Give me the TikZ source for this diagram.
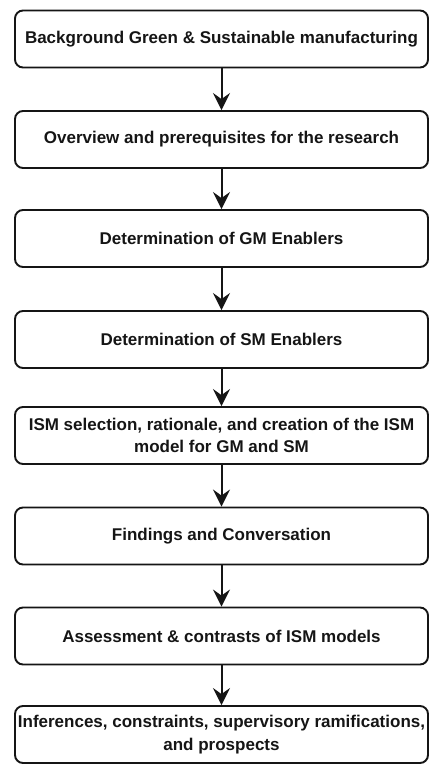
\documentclass[tikz,border=0pt]{standalone}
\usepackage{fontspec}
\setmainfont{Liberation Sans}
\usetikzlibrary{arrows.meta}
\definecolor{ink}{HTML}{151515}
\begin{document}
\begin{tikzpicture}[x=1pt,y=-1pt,
  stepbox/.style={draw=ink,line width=1.9pt,rounded corners=8pt,
    minimum width=413pt,minimum height=57pt,inner sep=0pt,
    align=center,text=ink,
    font=\fontsize{17}{22.5}\selectfont\bfseries},
  flow/.style={draw=ink,line width=2pt,
    -{Stealth[length=17pt,width=17pt,inset=6pt]}}]
\useasboundingbox (0,0) rectangle (429,764);
\node[stepbox] (b1) at (221.5,39)    {Background Green \& Sustainable manufacturing};
\node[stepbox] (b2) at (221.5,139.5) {Overview and prerequisites for the research};
\node[stepbox] (b3) at (221.5,238.5) {Determination of GM Enablers};
\node[stepbox] (b4) at (221.5,339.5) {Determination of SM Enablers};
\node[stepbox] (b5) at (221.5,435.5) {ISM selection, rationale, and creation of the ISM\\model for GM and SM};
\node[stepbox] (b6) at (221.5,536)   {Findings and Conversation};
\node[stepbox] (b7) at (221.5,636)   {Assessment \& contrasts of ISM models};
\node[stepbox] (b8) at (221.5,734.5) {Inferences, constraints, supervisory ramifications,\\and prospects};
\foreach \a/\b in {b1/b2,b2/b3,b3/b4,b4/b5,b5/b6,b6/b7,b7/b8}
  \draw[flow] (\a.south) -- (\b.north);
\end{tikzpicture}
\end{document}
